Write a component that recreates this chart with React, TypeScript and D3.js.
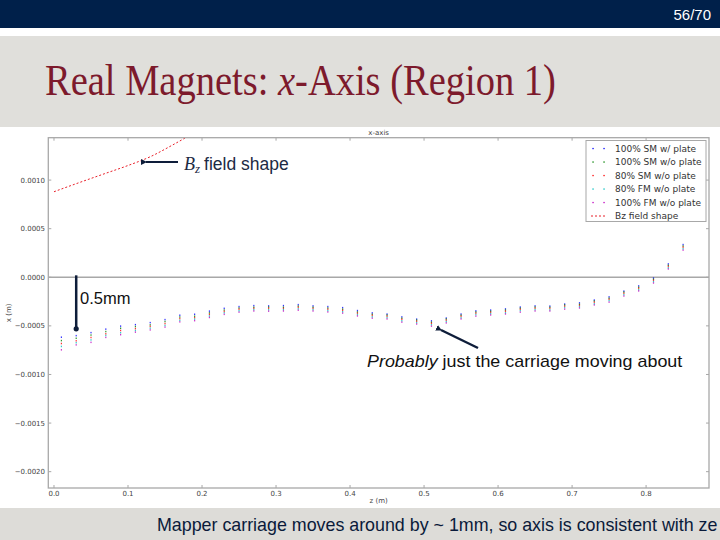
import React, { useLayoutEffect, useRef, useState } from "react";
import * as d3 from "d3";

// ---------- data ----------
const zPositions = [
  0.01, 0.03, 0.05, 0.07, 0.09, 0.11, 0.13, 0.15, 0.17, 0.19,
  0.21, 0.23, 0.25, 0.27, 0.29, 0.31, 0.33, 0.35, 0.37, 0.39,
  0.41, 0.43, 0.45, 0.47, 0.49, 0.51, 0.53, 0.55, 0.57, 0.59,
  0.61, 0.63, 0.65, 0.67, 0.69, 0.71, 0.73, 0.75, 0.77, 0.79,
  0.81, 0.83, 0.85,
];

// x offsets in micrometres
const sm100Plate = [
  -616, -600, -569, -533, -502, -487, -466, -435, -390, -380,
  -348, -319, -301, -291, -294, -291, -281, -294, -301, -312,
  -342, -366, -378, -407, -430, -448, -419, -378, -345, -337,
  -325, -306, -294, -296, -275, -263, -234, -201, -142, -88,
  -8, 138, 337,
];
const sm100NoPlate = [
  -651, -627, -594, -558, -524, -507, -489, -455, -408, -400,
  -366, -337, -316, -308, -306, -308, -296, -308, -316, -328,
  -357, -380, -388, -421, -440, -462, -429, -390, -357, -349,
  -337, -318, -306, -308, -285, -277, -244, -215, -152, -102,
  -20, 124, 322,
];
const sm80NoPlate = [
  -681, -653, -619, -581, -547, -528, -505, -476, -424, -415,
  -381, -351, -328, -319, -318, -319, -308, -319, -328, -339,
  -369, -391, -400, -432, -452, -473, -441, -401, -369, -360,
  -349, -329, -318, -319, -297, -288, -256, -226, -164, -113,
  -30, 113, 310,
];
const fm80NoPlate = [
  -711, -673, -644, -598, -570, -547, -523, -495, -442, -430,
  -398, -365, -344, -332, -334, -332, -324, -332, -342, -354,
  -383, -406, -414, -447, -466, -488, -455, -416, -383, -373,
  -365, -342, -332, -334, -311, -301, -272, -239, -178, -128,
  -44, 98, 294,
];
const fm100NoPlate = [
  -746, -695, -669, -618, -590, -564, -541, -512, -458, -446,
  -413, -381, -358, -346, -348, -346, -338, -346, -356, -368,
  -397, -420, -428, -461, -480, -502, -469, -428, -399, -387,
  -377, -358, -346, -346, -327, -315, -284, -255, -192, -140,
  -58, 86, 280,
];

const seriesNames = [
  "100% SM w/ plate",
  "100% SM w/o plate",
  "80% SM w/o plate",
  "80% FM w/o plate",
  "100% FM w/o plate",
];
const seriesValues = [sm100Plate, sm100NoPlate, sm80NoPlate, fm80NoPlate, fm100NoPlate];
const seriesColors = ["#0000ff", "#008000", "#ff0000", "#00bfbf", "#bf00bf"];

// Bz field shape (scaled), metres
const bzZ = [0.0, 0.01, 0.04, 0.07, 0.1, 0.13, 0.16, 0.19, 0.22];
const bzX = [0.00088, 0.000908, 0.00099, 0.00107, 0.00115, 0.00124, 0.00136, 0.00149, 0.00163];

const xTicks = [0.0, 0.1, 0.2, 0.3, 0.4, 0.5, 0.6, 0.7, 0.8];
const yTicks = [0.001, 0.0005, 0.0, -0.0005, -0.001, -0.0015, -0.002];

// ---------- layout ----------
const W = 720;
const H = 540;
const plotL = 48.3;
const plotR = 709;
const plotT = 137.7;
const plotB = 488;

const xScale = d3.scaleLinear().domain([-0.0077, 0.885]).range([plotL, plotR]);
const yScale = d3.scaleLinear().domain([-0.002168, 0.001436]).range([plotB, plotT]);

const bzLine = d3
  .line<number>()
  .x((_, i) => xScale(bzZ[i]))
  .y((d) => yScale(d))
  .curve(d3.curveMonotoneX);

const fmtY = d3.format(".4f");
const fmtX = d3.format(".1f");

const axisColor = "#a8a8a8";
const tickFont = "DejaVu Sans";
const navy = "#0e1d3a";

function FitText(props: {
  x: number;
  y: number;
  width: number;
  children: React.ReactNode;
  [k: string]: any;
}) {
  const { x, y, width, children, ...rest } = props;
  const ref = useRef<SVGTextElement>(null);
  const [sx, setSx] = useState(1);
  useLayoutEffect(() => {
    if (ref.current) {
      const w = ref.current.getBBox().width;
      if (w > 0) setSx(width / w);
    }
  }, [width]);
  return (
    <text ref={ref} transform={`translate(${x},${y}) scale(${sx},1)`} {...rest}>
      {children}
    </text>
  );
}

export default function App() {
  const tickLen = 3;
  return (
    <svg
      width={W}
      height={H}
      viewBox={`0 0 ${W} ${H}`}
      style={{ position: "absolute", left: 0, top: 0, background: "#fff" }}
    >
      <defs>
        <clipPath id="plotClip">
          <rect x={plotL} y={plotT} width={plotR - plotL} height={plotB - plotT} />
        </clipPath>
        <marker id="arrowHead" markerWidth="6" markerHeight="6" refX="1" refY="3" orient="auto" markerUnits="userSpaceOnUse">
          <path d="M6,0 L0,3 L6,6 Z" fill={navy} />
        </marker>
      </defs>

      {/* slide header */}
      <rect x={0} y={0} width={W} height={28} fill="#00204a" />
      <text x={711} y={20} fill="#ffffff" fontFamily="Liberation Sans Narrow, Liberation Sans" fontSize={15} textAnchor="end">
        56/70
      </text>
      <rect x={0} y={36} width={W} height={91} fill="#e0dfdb" />
      <FitText x={45} y={95} width={511} fill="#7d1a2c" fontFamily="Liberation Serif" fontSize={44}>
        Real Magnets: <tspan fontStyle="italic">x</tspan>-Axis (Region 1)
      </FitText>

      {/* chart background */}
      <rect x={0} y={127} width={W} height={381} fill="#ffffff" />

      {/* chart title & axis labels */}
      <text x={(plotL + plotR) / 2} y={135} fontFamily={tickFont} fontSize={7} fill="#444" textAnchor="middle">
        x-axis
      </text>
      <text x={(plotL + plotR) / 2} y={503} fontFamily={tickFont} fontSize={7} fill="#444" textAnchor="middle">
        z (m)
      </text>
      <text
        transform={`translate(11, ${(plotT + plotB) / 2}) rotate(-90)`}
        fontFamily={tickFont}
        fontSize={7}
        fill="#444"
        textAnchor="middle"
      >
        x (m)
      </text>

      {/* ticks */}
      {xTicks.map((t) => (
        <g key={`xt${t}`}>
          <line x1={xScale(t)} x2={xScale(t)} y1={plotB} y2={plotB - tickLen} stroke={axisColor} />
          <line x1={xScale(t)} x2={xScale(t)} y1={plotT} y2={plotT + tickLen} stroke={axisColor} />
          <text x={xScale(t)} y={496} fontFamily={tickFont} fontSize={7} fill="#444" textAnchor="middle">
            {fmtX(t)}
          </text>
        </g>
      ))}
      {yTicks.map((t) => (
        <g key={`yt${t}`}>
          <line x1={plotL} x2={plotL + tickLen} y1={yScale(t)} y2={yScale(t)} stroke={axisColor} />
          <line x1={plotR} x2={plotR - tickLen} y1={yScale(t)} y2={yScale(t)} stroke={axisColor} />
          <text x={45} y={yScale(t)} dy="0.35em" fontFamily={tickFont} fontSize={7} fill="#444" textAnchor="end">
            {fmtY(t)}
          </text>
        </g>
      ))}

      {/* zero line */}
      <line x1={plotL} x2={plotR} y1={yScale(0)} y2={yScale(0)} stroke={axisColor} strokeWidth={1.5} />

      {/* data */}
      <g clipPath="url(#plotClip)">
        <path
          d={bzLine(bzX) || ""}
          fill="none"
          stroke="#e8202a"
          strokeWidth={1}
          strokeDasharray="2,2"
        />
        {seriesValues.map((vals, si) =>
          vals.map((v, i) => (
            <rect
              key={`p${si}-${i}`}
              x={xScale(zPositions[i]) - 0.6}
              y={yScale(v * 1e-6) - 0.7}
              width={1.2}
              height={1.5}
              fill={seriesColors[si]}
              opacity={0.8}
            />
          ))
        )}
      </g>

      {/* frame */}
      <rect x={plotL} y={plotT} width={plotR - plotL} height={plotB - plotT} fill="none" stroke={axisColor} strokeWidth={1.3} />

      {/* legend */}
      <rect x={586} y={140.5} width={120} height={81} fill="#ffffff" stroke={axisColor} strokeWidth={1} />
      {seriesNames.map((name, i) => {
        const y = 148.5 + i * 13.5;
        return (
          <g key={`lg${i}`}>
            <rect x={592.4} y={y - 0.6} width={1.3} height={1.3} fill={seriesColors[i]} />
            <rect x={603.4} y={y - 0.6} width={1.3} height={1.3} fill={seriesColors[i]} />
            <text x={615} y={y} dy="0.35em" fontFamily={tickFont} fontSize={9} fill="#333">
              {name}
            </text>
          </g>
        );
      })}
      <line x1={591} x2={607} y1={216} y2={216} stroke="#e8202a" strokeWidth={1} strokeDasharray="2,2" />
      <text x={615} y={216} dy="0.35em" fontFamily={tickFont} fontSize={9} fill="#333">
        Bz field shape
      </text>

      {/* annotations */}
      <line x1={178} x2={146} y1={162} y2={162} stroke={navy} strokeWidth={2} markerEnd="url(#arrowHead)" />
      <text x={184} y={170} fill="#1c2a44" fontSize={17.5}>
        <tspan fontFamily="Liberation Serif" fontStyle="italic" fontSize={18}>B</tspan>
        <tspan fontFamily="Liberation Serif" fontStyle="italic" fontSize={13} dy={3}>z</tspan>
        <tspan fontFamily="Liberation Sans" dy={-3} dx={4}>field shape</tspan>
      </text>

      <line
        x1={xScale(0.03)}
        x2={xScale(0.03)}
        y1={yScale(0.00002)}
        y2={yScale(-0.00053)}
        stroke={navy}
        strokeWidth={2.5}
      />
      <circle cx={xScale(0.03)} cy={yScale(-0.00053)} r={2.6} fill={navy} />
      <text x={80} y={304} fontFamily="Liberation Sans" fontSize={16.5} fill="#111">
        0.5mm
      </text>

      <line x1={478} x2={441} y1={348} y2={330} stroke={navy} strokeWidth={2.5} markerEnd="url(#arrowHead)" />
      <FitText x={367} y={367} width={316} fontFamily="Liberation Sans" fontSize={16} fill="#111">
        <tspan fontStyle="italic">Probably</tspan> just the carriage moving about
      </FitText>

      {/* footer */}
      <rect x={0} y={508} width={W} height={32} fill="#dddcd8" />
      <FitText x={157} y={531} width={561} fontFamily="Liberation Sans" fontSize={18} fill="#0a1a3a">
        Mapper carriage moves around by ~ 1mm, so axis is consistent with ze
      </FitText>
    </svg>
  );
}
